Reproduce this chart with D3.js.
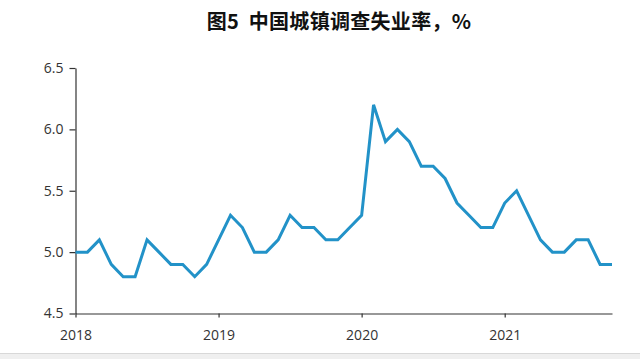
<!DOCTYPE html>
<html><head><meta charset="utf-8">
<script src="https://cdn.jsdelivr.net/npm/d3@7"></script>
<style>
html,body{margin:0;padding:0;background:#fff;}
svg{display:block;}
</style></head>
<body>
<script>
const title = "图5  中国城镇调查失业率，%";
const years = ["2018","2019","2020","2021"];
const months = d3.range(46); // Jan 2018 .. Oct 2021, month index
const rate = [
 5.0,5.0,5.1,4.9,4.8,4.8,5.1,5.0,4.9,4.9,4.8,4.9,
 5.1,5.3,5.2,5.0,5.0,5.1,5.3,5.2,5.2,5.1,5.1,5.2,
 5.3,6.2,5.9,6.0,5.9,5.7,5.7,5.6,5.4,5.3,5.2,5.2,
 5.4,5.5,5.3,5.1,5.0,5.0,5.1,5.1,4.9,4.9
];
const yTicks = [4.5,5.0,5.5,6.0,6.5];

const W=640,H=359;
const svg=d3.select("body").append("svg").attr("width",W).attr("height",H);
svg.append("rect").attr("x",0).attr("y",353).attr("width",W).attr("height",6).attr("fill","#efefef");
svg.append("line").attr("x1",0).attr("x2",W).attr("y1",353.5).attr("y2",353.5).attr("stroke","#d8d8d8");

const x=d3.scaleLinear().domain([0,45]).range([75.5,612]);
const y=d3.scaleLinear().domain([4.5,6.5]).range([313.5,68]);

svg.append("text").attr("x",339).attr("y",29).attr("text-anchor","middle")
 .attr("font-family","'Noto Sans CJK SC', sans-serif").attr("font-weight","700")
 .attr("font-size",20).attr("letter-spacing",0.3).attr("fill","#111").attr("xml:space","preserve").text(title);

const yAxis=svg.append("g").attr("transform","translate(75.5,0)")
 .call(d3.axisLeft(y).tickValues(yTicks).tickFormat(d3.format(".1f")).tickSize(6).tickSizeOuter(0));
const xAxis=svg.append("g").attr("transform","translate(0,313.5)")
 .call(d3.axisBottom(x).tickValues(years.map((d,i)=>i*12)).tickFormat((d,i)=>years[i]).tickSize(4).tickSizeOuter(0));
[yAxis,xAxis].forEach(g=>{
 g.selectAll("path,line").attr("stroke","#333").attr("stroke-width",1.2);
 g.selectAll("text").attr("font-family","'Open Sans', sans-serif").attr("font-size",14).attr("fill","#333");
});
yAxis.selectAll("text").attr("dx",-3);
xAxis.selectAll("text").attr("dy","1.4em");

svg.append("path").datum(months)
 .attr("fill","none").attr("stroke","#2292c8").attr("stroke-width",3).attr("stroke-linejoin","miter")
 .attr("d",d3.line().x(i=>x(i)).y(i=>y(rate[i])));
</script>
</body></html>
